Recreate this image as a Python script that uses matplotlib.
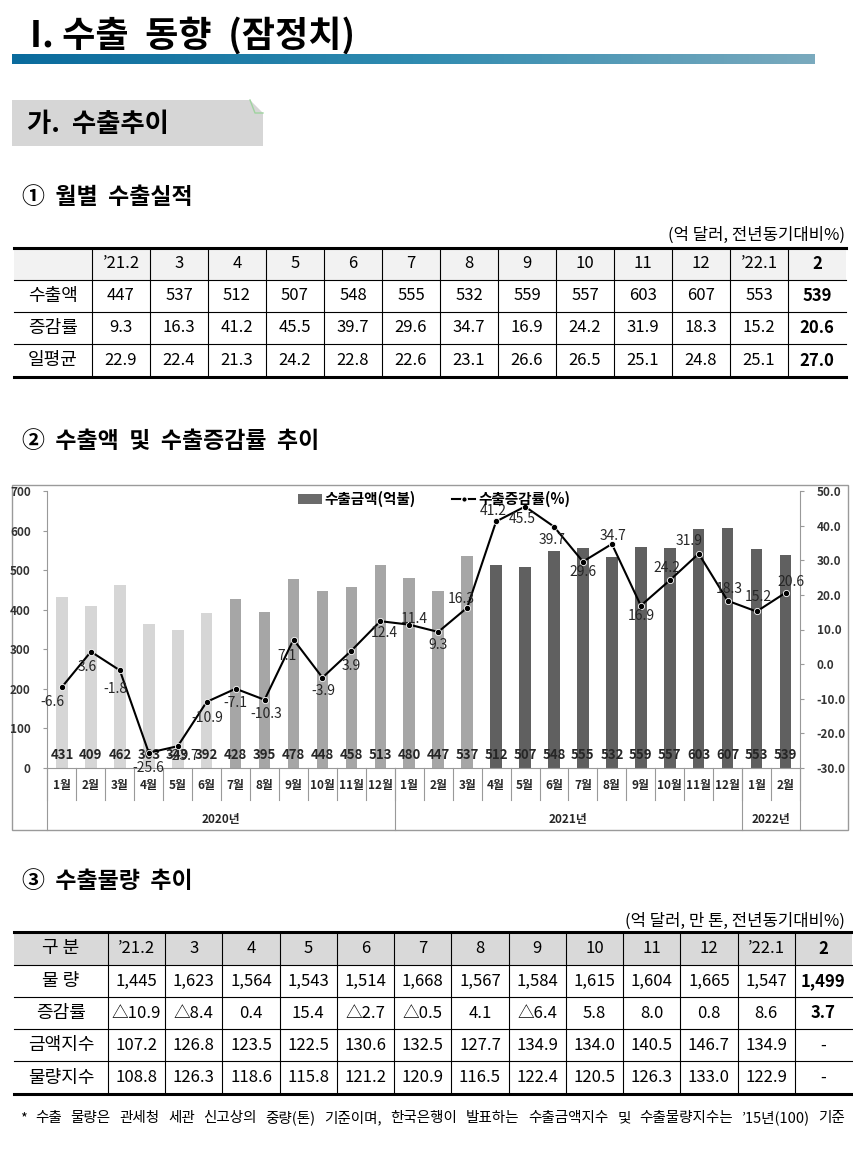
"""수출 동향 page: tables + export amount / growth chart."""
import numpy as np
import matplotlib
matplotlib.use('Agg')
from matplotlib import pyplot as plt
from matplotlib.patches import Rectangle, Polygon, Patch
from matplotlib.lines import Line2D
from matplotlib.colors import LinearSegmentedColormap
from matplotlib.ticker import FormatStrFormatter

plt.rcParams['font.family'] = ['Noto Sans CJK KR', 'DejaVu Sans']

# ---- table 1: 월별 수출실적
t1_cols = ['’21.2', '3', '4', '5', '6', '7', '8', '9', '10', '11', '12', '’22.1', '2']
t1_exports = [447, 537, 512, 507, 548, 555, 532, 559, 557, 603, 607, 553, 539]
t1_growth = [9.3, 16.3, 41.2, 45.5, 39.7, 29.6, 34.7, 16.9, 24.2, 31.9, 18.3, 15.2, 20.6]
t1_daily = [22.9, 22.4, 21.3, 24.2, 22.8, 22.6, 23.1, 26.6, 26.5, 25.1, 24.8, 25.1, 27.0]

# ---- chart: 수출액 및 수출증감률 (2020.1 ~ 2022.2)
months = ['1월', '2월', '3월', '4월', '5월', '6월', '7월', '8월', '9월', '10월', '11월', '12월',
          '1월', '2월', '3월', '4월', '5월', '6월', '7월', '8월', '9월', '10월', '11월', '12월',
          '1월', '2월']
years = ['2020년', '2021년', '2022년']
year_len = [12, 12, 2]
amounts = [431, 409, 462, 363, 349, 392, 428, 395, 478, 448, 458, 513,
           480, 447, 537, 512, 507, 548, 555, 532, 559, 557, 603, 607,
           553, 539]
rates = [-6.6, 3.6, -1.8, -25.6, -23.7, -10.9, -7.1, -10.3, 7.1, -3.9, 3.9, 12.4,
         11.4, 9.3, 16.3, 41.2, 45.5, 39.7, 29.6, 34.7, 16.9, 24.2, 31.9, 18.3,
         15.2, 20.6]

# ---- table 3: 수출물량
t3_cols = ['’21.2', '3', '4', '5', '6', '7', '8', '9', '10', '11', '12', '’22.1', '2']
t3_volume = [1445, 1623, 1564, 1543, 1514, 1668, 1567, 1584, 1615, 1604, 1665, 1547, 1499]
t3_growth = [-10.9, -8.4, 0.4, 15.4, -2.7, -0.5, 4.1, -6.4, 5.8, 8.0, 0.8, 8.6, 3.7]
t3_value_idx = [107.2, 126.8, 123.5, 122.5, 130.6, 132.5, 127.7, 134.9, 134.0, 140.5, 146.7, 134.9, None]
t3_volume_idx = [108.8, 126.3, 118.6, 115.8, 121.2, 120.9, 116.5, 122.4, 120.5, 126.3, 133.0, 122.9, None]

footnote = ('* 수출 물량은 관세청 세관 신고상의 중량(톤) 기준이며, 한국은행이 발표하는 '
            '수출금액지수 및 수출물량지수는 ’15년(100) 기준')

W, H = 854, 1160
fig = plt.figure(figsize=(W / 100, H / 100), dpi=100)

# page canvas in pixel coordinates
page = fig.add_axes([0, 0, 1, 1])
page.set_xlim(0, W)
page.set_ylim(H, 0)
page.axis('off')

# title + gradient rule
page.text(30, 36, 'I. 수출  동향  (잠정치)', fontsize=26, fontweight='bold', va='center')
gax = fig.add_axes([12 / W, 1 - 64 / H, (815 - 12) / W, 10 / H])
gax.imshow(np.linspace(0, 1, 256)[None, :], aspect='auto',
           cmap=LinearSegmentedColormap.from_list('rule', ['#0a6b9d', '#2f8bb0', '#7aaabe']))
gax.axis('off')

# 가. 수출추이 box
page.add_patch(Rectangle((12, 100), 251, 46, fc='#d6d6d6', ec='none'))
page.add_patch(Polygon([(250, 100), (263, 100), (263, 113)], fc='white', ec='none'))
page.plot([250, 255, 263], [100, 113, 113], color='#9fd49f', lw=1)
page.text(27, 124, '가.  수출추이', fontsize=19, fontweight='bold', va='center')

page.text(22, 198, '①  월별  수출실적', fontsize=16.5, fontweight='bold', va='center')
page.text(22, 442, '②  수출액  및  수출증감률  추이', fontsize=16.5, fontweight='bold', va='center')
page.text(22, 882, '③  수출물량  추이', fontsize=16.5, fontweight='bold', va='center')


def draw_table(row_edges, col_edges, cells, header_fc):
    top, bottom = row_edges[0], row_edges[-1]
    page.add_patch(Rectangle((col_edges[0], top), col_edges[-1] - col_edges[0],
                             row_edges[1] - top, fc=header_fc, ec='none'))
    for y in row_edges[1:-1]:
        page.plot([col_edges[0], col_edges[-1]], [y, y], color='black', lw=0.8)
    for y in (top, bottom):
        page.plot([col_edges[0], col_edges[-1]], [y, y], color='black', lw=2.2)
    for x in col_edges[1:-1]:
        page.plot([x, x], [top, bottom], color='black', lw=0.8)
    ncol = len(col_edges) - 1
    for r, row in enumerate(cells):
        yc = (row_edges[r] + row_edges[r + 1]) / 2
        for c, txt in enumerate(row):
            xc = (col_edges[c] + col_edges[c + 1]) / 2
            bold = (c == ncol - 1) and txt != '-'
            size = 13 if c == 0 else 12
            page.text(xc, yc, txt, ha='center', va='center', fontsize=size,
                      fontweight='bold' if bold else 'normal')


# table 1
page.text(845, 235, '(억 달러, 전년동기대비%)', ha='right', va='center', fontsize=12)
c1 = [14, 92] + [92 + (846 - 92) / 13 * (i + 1) for i in range(13)]
cells1 = [[''] + t1_cols,
          ['수출액'] + [str(v) for v in t1_exports],
          ['증감률'] + [f'{v:.1f}' for v in t1_growth],
          ['일평균'] + [f'{v:.1f}' for v in t1_daily]]
draw_table([248, 280, 312, 344, 377], c1, cells1, '#f2f2f2')

# table 3
page.text(845, 921, '(억 달러, 만 톤, 전년동기대비%)', ha='right', va='center', fontsize=12)
c3 = [14, 108] + [108 + (852 - 108) / 13 * (i + 1) for i in range(13)]
cells3 = [['구 분'] + t3_cols,
          ['물 량'] + [f'{v:,}' for v in t3_volume],
          ['증감률'] + [f'△{abs(v):.1f}' if v < 0 else f'{v:.1f}' for v in t3_growth],
          ['금액지수'] + ['-' if v is None else f'{v:.1f}' for v in t3_value_idx],
          ['물량지수'] + ['-' if v is None else f'{v:.1f}' for v in t3_volume_idx]]
draw_table([932, 965, 997, 1029, 1061, 1094], c3, cells3, '#d9d9d9')

# footnote, justified word by word between x=20 and x=845
renderer = fig.canvas.get_renderer()
words = footnote.split(' ')
wtexts = [page.text(0, 1118, w, fontsize=10.5, va='center') for w in words]
widths = [t.get_window_extent(renderer).width for t in wtexts]
gap = (845 - 20 - sum(widths)) / (len(words) - 1)
xpos = 20
for t, w in zip(wtexts, widths):
    t.set_x(xpos)
    xpos += w + gap

# ---- chart
page.add_patch(Rectangle((12, 485), 836, 345, fill=False, ec='#9a9a9a', lw=1))
px_l, px_r, px_t, px_b = 47.5, 800, 491, 768
ax = fig.add_axes([px_l / W, 1 - px_b / H, (px_r - px_l) / W, (px_b - px_t) / H])
ax.patch.set_alpha(0)
x = np.arange(len(amounts))
bar_colors = ['#d6d6d6'] * 6 + ['#a6a6a6'] * 9 + ['#606060'] * 11
ax.bar(x, amounts, width=0.4, color=bar_colors, zorder=2)
ax.set_xlim(-0.5, len(amounts) - 0.5)
ax.set_ylim(0, 700)
ax.set_yticks(range(0, 701, 100))
ax.set_xticks([])
ax.tick_params(axis='y', labelsize=8.5, labelcolor='#333333', color='#999999', length=3, pad=9)
for lbl in ax.get_yticklabels():
    lbl.set_fontweight('bold')
for s in ('top', 'right'):
    ax.spines[s].set_visible(False)
for s in ('left', 'bottom'):
    ax.spines[s].set_color('#999999')
for xi, v in zip(x, amounts):
    ax.text(xi, 33, str(v), ha='center', va='center', fontsize=9.5, fontweight='bold',
            color='#262626', zorder=3)

ax2 = ax.twinx()
ax2.set_ylim(-30, 50)
ax2.set_yticks(range(-30, 51, 10))
ax2.yaxis.set_major_formatter(FormatStrFormatter('%.1f'))
ax2.tick_params(axis='y', labelsize=8.5, labelcolor='#333333', color='#999999', length=3, pad=9)
for lbl in ax2.get_yticklabels():
    lbl.set_fontweight('bold')
for s in ('top', 'left', 'bottom'):
    ax2.spines[s].set_visible(False)
ax2.spines['right'].set_color('#999999')
ax2.plot(x, rates, color='black', lw=1.5, marker='o', ms=4.5, mfc='black', mec='white', mew=0.6,
         zorder=4)

label_off = [(-10, -15), (-4, -15), (-4, -19), (0, -15), (5, -10), (1, -16), (0, -14), (2, -14),
             (-7, -16), (1, -13), (0, -15), (4, -12), (5, 6), (0, -13), (-6, 9), (-3, 10),
             (-3, -12), (-2, -13), (0, -10), (1, 8), (0, -10), (-3, 12), (-10, 13), (2, 12),
             (2, 14), (5, 11)]
for xi, v, off in zip(x, rates, label_off):
    ax2.annotate(f'{v:.1f}', (xi, v), xytext=off, textcoords='offset pixels',
                 ha='center', va='center', fontsize=10, color='#262626', zorder=5)

# category axis: months, years, separators
trans = ax.get_xaxis_transform()
ph = px_b - px_t
for xi, m in zip(x, months):
    ax.text(xi, -(786 - px_b) / ph, m, transform=trans, ha='center', va='center',
            fontsize=8.5, fontweight='bold', color='#262626')
for b in np.arange(-0.5, len(months), 1):
    ax.plot([b, b], [0, -32 / ph], transform=trans, color='#999999', lw=0.8, clip_on=False)
start = 0
bounds = [-0.5]
for yname, n in zip(years, year_len):
    ax.text(start + (n - 1) / 2, -(820 - px_b) / ph, yname, transform=trans, ha='center',
            va='center', fontsize=8.5, fontweight='bold', color='#262626')
    start += n
    bounds.append(start - 0.5)
for b in bounds:
    ax.plot([b, b], [0, -(830 - px_b) / ph], transform=trans, color='#999999', lw=0.8,
            clip_on=False)

handles = [Patch(fc='#6b6b6b'),
           Line2D([], [], color='black', lw=1.5, marker='o', ms=4, mfc='black', mec='white')]
ax2.legend(handles, ['수출금액(억불)', '수출증감률(%)'], loc='center', bbox_to_anchor=(0.514, 0.97),
           ncol=2, frameon=False, prop={'size': 10.5, 'weight': 'bold'}, handlelength=1.6,
           handletextpad=0.2, columnspacing=2.5)

fig.savefig('out.png', dpi=100)
